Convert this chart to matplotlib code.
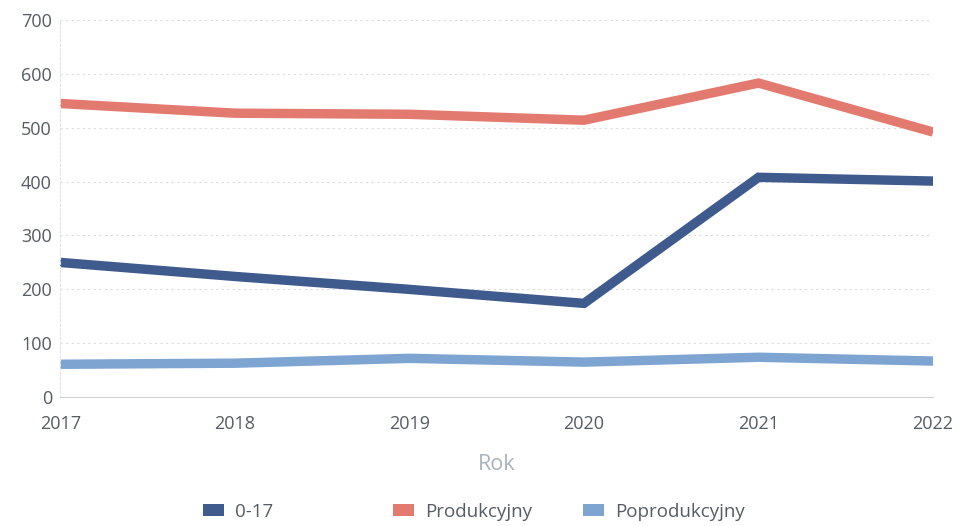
import matplotlib.pyplot as plt
from matplotlib.patches import Patch

plt.rcParams['font.family'] = ['Open Sans', 'DejaVu Sans']

years = [2017, 2018, 2019, 2020, 2021, 2022]
age_0_17 = [250, 224, 200, 174, 408, 401]
produkcyjny = [545, 527, 525, 514, 583, 492]
poprodukcyjny = [61, 63, 72, 65, 74, 67]

labels = ['0-17', 'Produkcyjny', 'Poprodukcyjny']
colors = ['#3f5b8e', '#e37a70', '#7ea4d1']
yticks = [0, 100, 200, 300, 400, 500, 600, 700]

fig = plt.figure(figsize=(9.57, 5.26), dpi=100)
ax = fig.add_axes([0.063, 0.245, 0.912, 0.717])

for vals, color in zip([age_0_17, produkcyjny, poprodukcyjny], colors):
    ax.plot(years, vals, color=color, lw=6.8, solid_capstyle='butt', solid_joinstyle='miter')

ax.set_xlim(years[0], years[-1])
ax.set_ylim(0, 700)
ax.set_yticks(yticks)
ax.set_xticks(years)
ax.grid(axis='y', linestyle=(0, (2, 3)), color='#dcdcdc', lw=0.8)
ax.set_axisbelow(True)
for side in ['top', 'right']:
    ax.spines[side].set_visible(False)
ax.spines['left'].set_color('#e3e3e3')
ax.spines['left'].set_linestyle((0, (2, 2)))
ax.spines['bottom'].set_color('#d0d0d0')
ax.tick_params(length=0, labelsize=13, labelcolor='#555b63', pad=6)
ax.tick_params(axis='x', pad=13)
ax.set_xlabel('Rok', fontsize=15.5, color='#a9b3bd', labelpad=15)

# legend entries sit in evenly spaced columns
for i, (lab, c) in enumerate(zip(labels, colors)):
    fig.legend([Patch(facecolor=c, edgecolor='none')], [lab], loc='center left',
               bbox_to_anchor=((203 + 190 * i) / 957, 0.027), frameon=False,
               fontsize=13.5, handlelength=1.1, handleheight=0.6, handletextpad=0.6,
               borderpad=0, borderaxespad=0, labelcolor='#555b63')

fig.savefig('out.png', dpi=100)
